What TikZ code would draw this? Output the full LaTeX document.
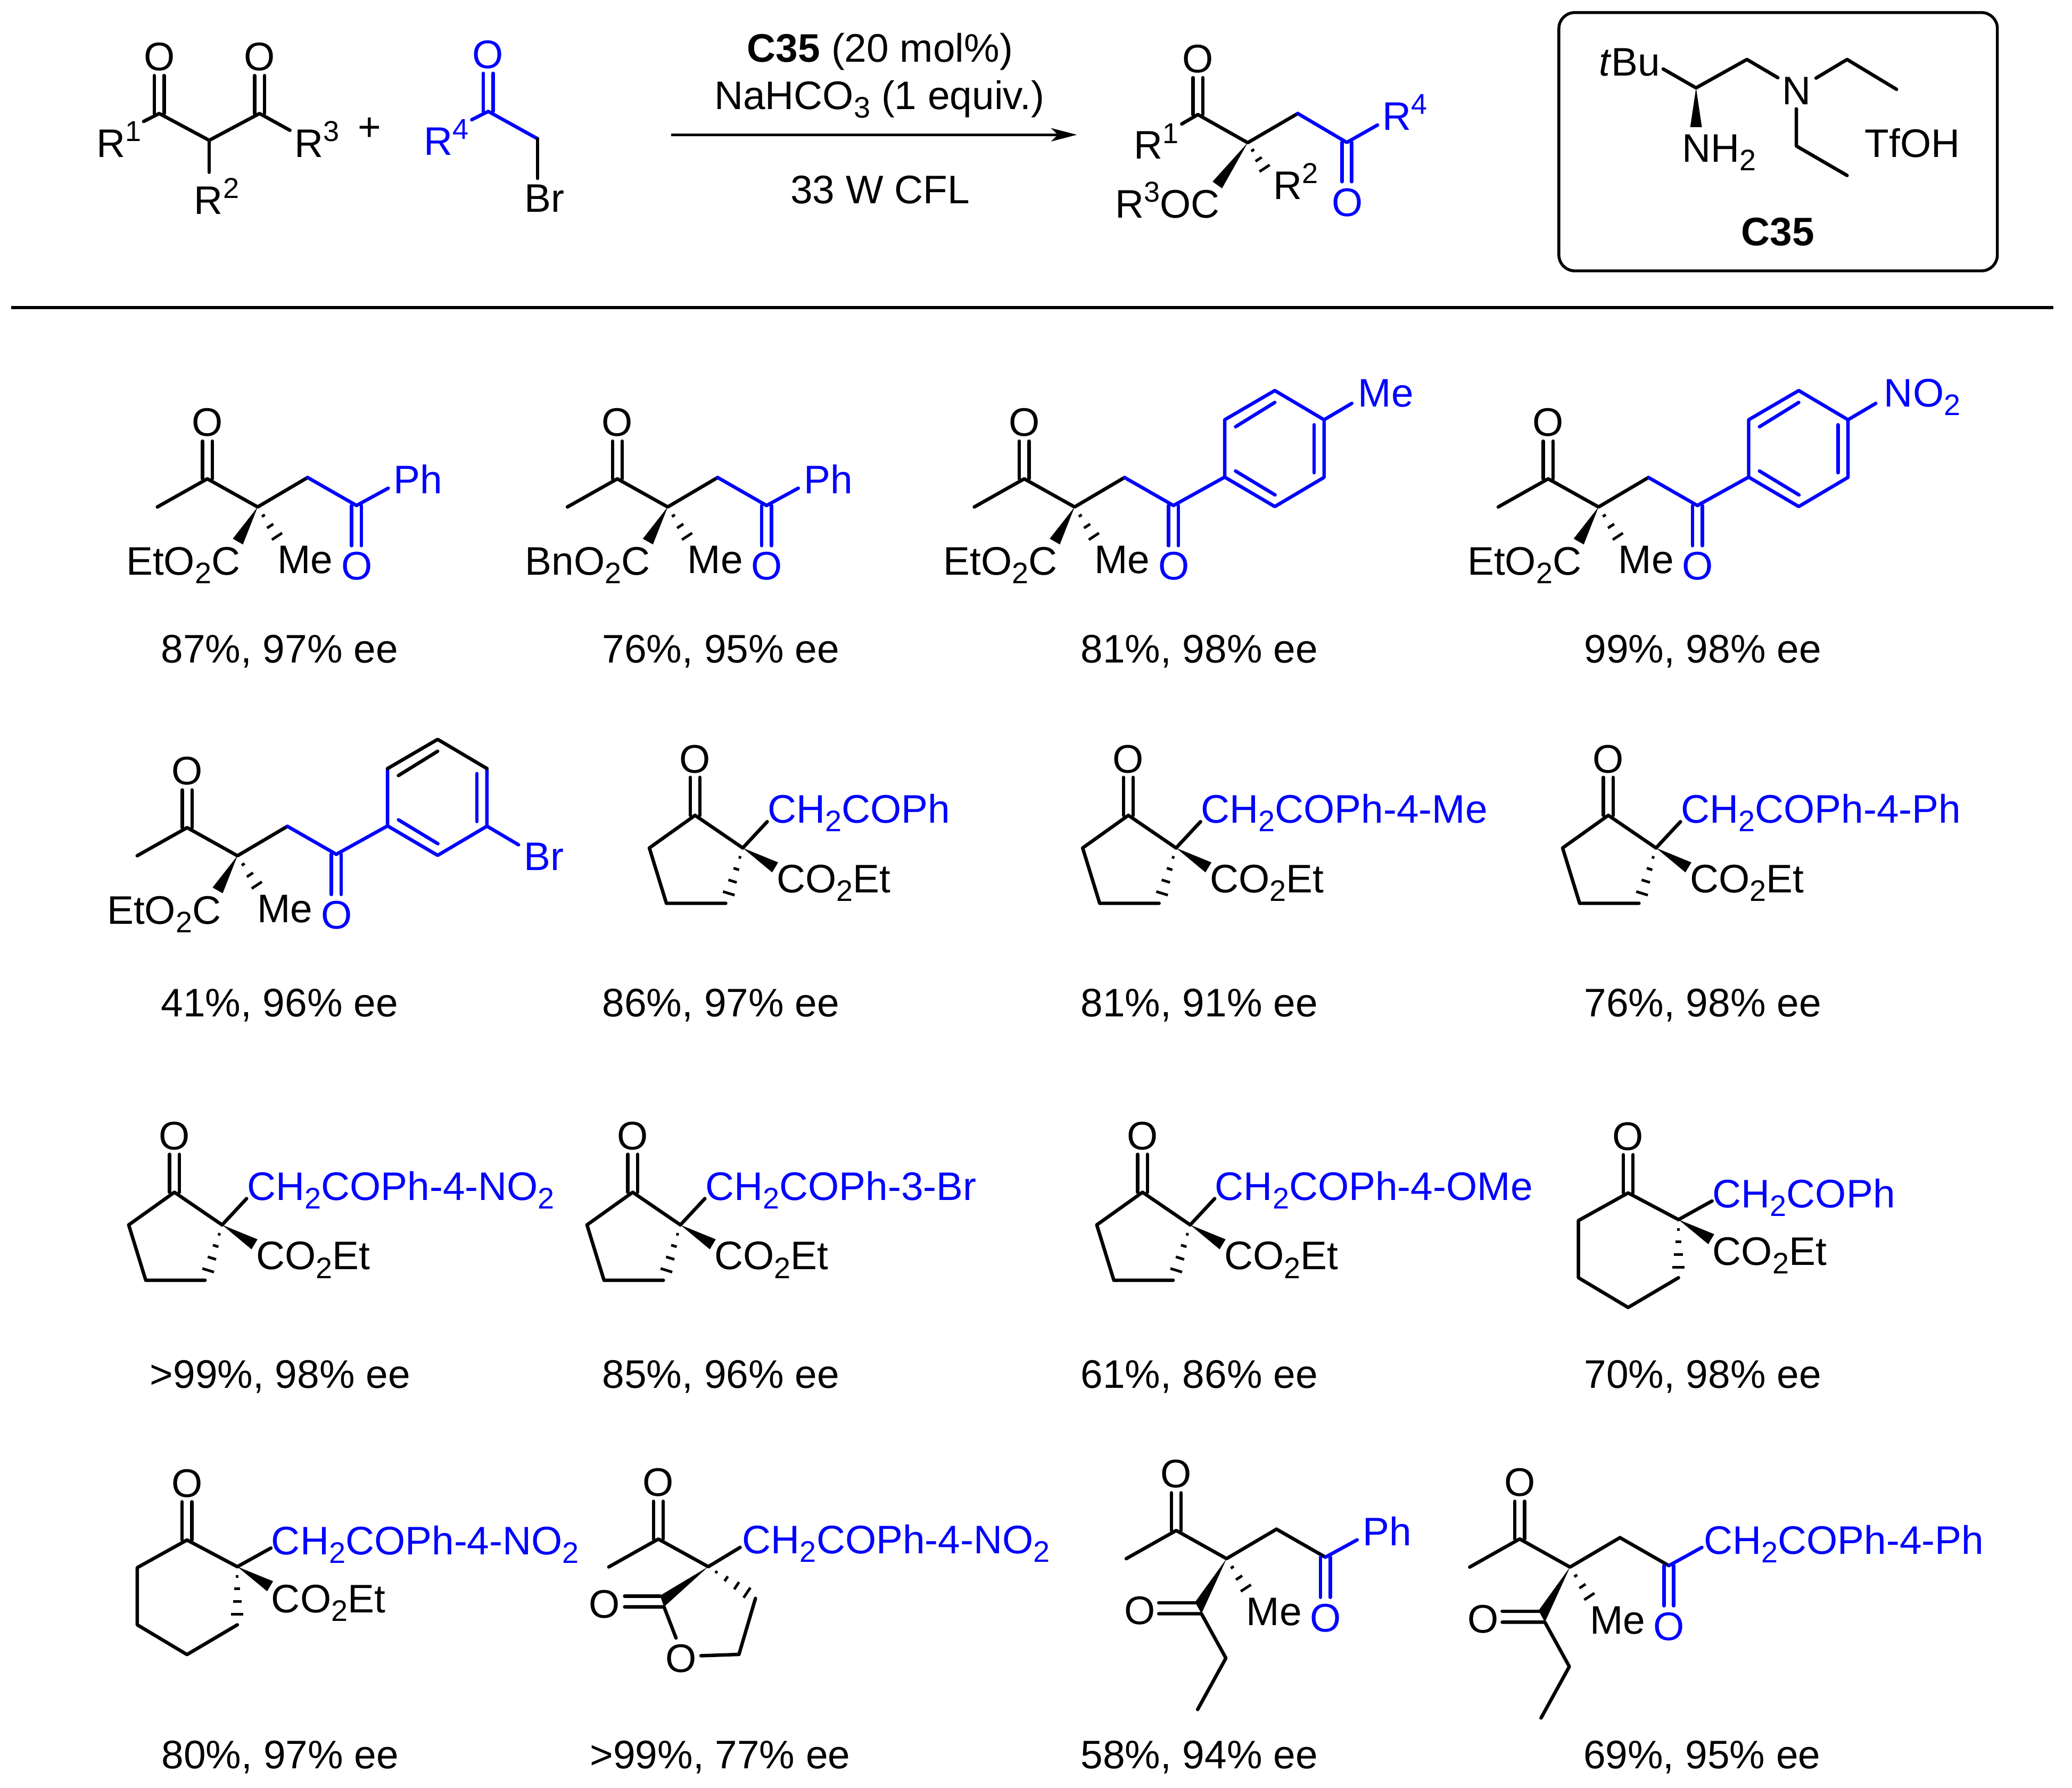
\documentclass[tikz,border=0pt]{standalone}
\usepackage{fontspec}
\setmainfont{Liberation Sans}
\usetikzlibrary{calc,arrows.meta}
\newcommand\labfont{\fontsize{8.58}{10}\selectfont}
\newcommand\sbs[1]{\raisebox{-0.65mm}{\fontsize{6.4}{7}\selectfont #1}}
\newcommand\spr[1]{\raisebox{1.2mm}{\fontsize{6.2}{7}\selectfont #1}}
\tikzset{
  lab/.style={inner sep=0pt,outer sep=0pt,font=\labfont,text=black},
  blab/.style={lab,text=blue},
  bond/.style={line width=0.26mm,line cap=round,line join=round,draw=black},
  hsh/.style={line width=0.2mm,draw=black},
  rule/.style={line width=0.22mm,draw=black}
}
% double bond between two named points
\newcommand\dbond[3][]{\draw[bond,#1] ($(#2)!0.37mm!90:(#3)$) -- ($(#3)!0.37mm!-90:(#2)$);
  \draw[bond,#1] ($(#2)!0.37mm!-90:(#3)$) -- ($(#3)!0.37mm!90:(#2)$);}
\newcommand\wedgeb[2]{\fill[black] (#1) -- ($(#2)!0.44mm!90:(#1)$) -- ($(#2)!0.44mm!-90:(#1)$) -- cycle;}
% hashed wedge, 4 stripes and 3 stripes
\newcommand\hashb[2]{\foreach \hs/\hw in {0.17/0.10,0.38/0.22,0.60/0.33,0.82/0.46}{%
  \coordinate (hc) at ($(#1)!\hs!(#2)$);
  \draw[hsh] ($(hc)!\hw mm!90:(#2)$) -- ($(hc)!\hw mm!-90:(#2)$);}}
\newcommand\hashc[2]{\foreach \hs/\hw in {0.26/0.13,0.57/0.28,0.88/0.46}{%
  \coordinate (hc) at ($(#1)!\hs!(#2)$);
  \draw[hsh] ($(hc)!\hw mm!90:(#2)$) -- ($(hc)!\hw mm!-90:(#2)$);}}
% acyclic product skeleton, frame of the first product
\newcommand\ketotop[1]{%
  \coordinate (o) at (156.9,333.9); \coordinate (c) at (156.9,362.4);
  \coordinate (me) at (119.1,383.7); \coordinate (q) at (195,383.7);
  \coordinate (ch) at (232.8,361.4); \coordinate (co) at (269.8,382.6);
  \coordinate (oe) at (269.8,413); \coordinate (hend) at (211.6,409);
  \node[lab,anchor=base] (ot) at (156.9,330) {O};
  \node[lab,anchor=base west] (met) at (210,434.1) {Me};
  \node[blab,anchor=base] (ob) at (270,439) {O};
  \dbond{o}{c}
  \draw[bond] (me) -- (c) -- (q) -- (ch);
  \draw[bond,#1] (ch) -- (co);
  \dbond[blue]{co}{oe}
  \hashc{q}{hend}}
\newcommand\estr[2]{%
  \coordinate (wend) at (180,409.9);
  \wedgeb{q}{wend}
  \node[lab,anchor=base west] (est) at (#1,435.3) {#2O\sbs{2}C};}
\newcommand\phend{%
  \coordinate (rb) at (293.8,369.5);
  \draw[bond,blue] (co) -- (rb);
  \node[blab,anchor=base west] (ph) at (298,373.7) {Ph};}
\newcommand\arylpts{%
  \coordinate (a1) at (308.6,361.1); \coordinate (a2) at (308.6,317.7);
  \coordinate (a3) at (346.5,295.6); \coordinate (a4) at (383.8,317.7);
  \coordinate (a5) at (383.8,361.3); \coordinate (a6) at (346.5,383.4);
  \coordinate (i1) at (316.8,356.5); \coordinate (i2) at (346.7,374.6);
  \coordinate (i3) at (316.8,323); \coordinate (i4) at (346.5,304.6);
  \coordinate (i5) at (376.2,321.5); \coordinate (i6) at (376.2,357.8);
  \draw[bond,blue] (co) -- (a1);}
% cyclopentanone frame
\newcommand\fivering[1]{%
  \coordinate (o) at (526,588.4); \coordinate (c) at (526,617.1);
  \coordinate (r1) at (491.4,641.8); \coordinate (r2) at (504.3,683.7);
  \coordinate (r3) at (549.2,683.7); \coordinate (q) at (562.1,641.8);
  \coordinate (wend) at (586.6,656.5); \coordinate (lb) at (580.6,621.9);
  \node[lab,anchor=base] (ot) at (526,584.9) {O};
  \dbond{o}{c}
  \draw[bond] (q) -- (c) -- (r1) -- (r2) -- (r3);
  \draw[bond] (q) -- (lb);
  \hashb{q}{r3}
  \wedgeb{q}{wend}
  \node[blab,anchor=base west] (subs) at (580.9,623) {#1};
  \node[lab,anchor=base west] (est) at (587.8,675.7) {CO\sbs{2}Et};}
% cyclohexanone frame
\newcommand\sixring[1]{%
  \coordinate (o) at (1232.1,874); \coordinate (c) at (1232.1,902.9);
  \coordinate (r1) at (1194.5,923.8); \coordinate (r2) at (1194.5,967.1);
  \coordinate (r3) at (1232.1,989.6); \coordinate (r4) at (1270.2,967.1);
  \coordinate (q) at (1270.2,923.1); \coordinate (wend) at (1295,937.9);
  \coordinate (lb) at (1295.6,909);
  \node[lab,anchor=base] (ot) at (1232.1,870.4) {O};
  \dbond{o}{c}
  \draw[bond] (q) -- (c) -- (r1) -- (r2) -- (r3) -- (r4);
  \draw[bond] (q) -- (lb);
  \hashb{q}{r4}
  \wedgeb{q}{wend}
  \node[blab,anchor=base west] (subs) at (1296,914) {#1};
  \node[lab,anchor=base west] (est) at (1296,957.7) {CO\sbs{2}Et};}
% diketone lower part
\newcommand\lowerketo{%
  \coordinate (w1) at (171.2,416.6); \coordinate (w2) at (176,425.4);
  \coordinate (d1) at (143.7,417.1); \coordinate (d1e) at (172,417.1);
  \coordinate (d2) at (143.7,425.4); \coordinate (e1) at (194.5,459);
  \coordinate (e2) at (173.1,497.9);
  \fill[black] (q) -- (w1) -- (w2) -- cycle;
  \draw[bond] (d1) -- (d1e);
  \draw[bond] (d2) -- (w2) -- (e1) -- (e2);
  \node[lab,anchor=base] (ol) at (129.4,433.6) {O};}
\begin{document}
\begin{tikzpicture}[x=0.1mm,y=-0.1mm]
\useasboundingbox (0,0) rectangle (1568,1353.3);
% ---------- reactant 1
\begin{scope}[name prefix=ra-]
  \coordinate (o1) at (120.5,57.2); \coordinate (c1) at (120.5,85.9);
  \coordinate (o2) at (196.4,57.2); \coordinate (c2) at (196.4,85.9);
  \coordinate (h) at (158.3,106.2); \coordinate (r1b) at (108.7,91.9);
  \coordinate (r2b) at (158.3,130.4); \coordinate (r3b) at (219.4,98.6);
  \node[lab,anchor=base] (ot1) at (120.5,53.3) {O};
  \node[lab,anchor=base] (ot2) at (196.4,53.3) {O};
  \node[lab,anchor=base west] (r1) at (73,119) {R\spr{1}};
  \node[lab,anchor=base west] (r2) at (147,162.2) {R\spr{2}};
  \node[lab,anchor=base west] (r3) at (223,119) {R\spr{3}};
  \dbond{o1}{c1} \dbond{o2}{c2}
  \draw[bond] (r1b) -- (c1) -- (h) -- (c2) -- (r3b);
  \draw[bond] (h) -- (r2b);
\end{scope}
\node[lab,anchor=base] (plus) at (279.6,106.7) {+};
% ---------- reactant 2
\begin{scope}[name prefix=rb-]
  \coordinate (o) at (369.5,55.5); \coordinate (c) at (369.5,84.3);
  \coordinate (rb) at (357,90.6); \coordinate (ch) at (406.8,105);
  \coordinate (brb) at (406.8,135);
  \node[blab,anchor=base] (ot) at (369.3,51.7) {O};
  \node[blab,anchor=base west] (r4) at (320.8,117.3) {R\spr{4}};
  \node[lab,anchor=base west] (br) at (397,160.6) {Br};
  \dbond[blue]{o}{c}
  \draw[bond,blue] (rb) -- (c) -- (ch);
  \draw[bond] (ch) -- (brb);
\end{scope}
% ---------- arrow and conditions
\coordinate (arrS) at (508,102); \coordinate (arrE) at (815,102);
\draw[rule,-{Stealth[length=1.95mm,width=1.0mm,inset=0.5mm]}] (arrS) -- (arrE);
\node[lab,anchor=base] (cond1) at (666,47) {\textbf{C35} (20 mol\%)};
\node[lab,anchor=base] (cond2) at (665.5,82.7) {NaHCO\sbs{3} (1 equiv.)};
\node[lab,anchor=base] (cond3) at (666,154) {33 W CFL};
% ---------- general product
\begin{scope}[name prefix=gp-]
  \coordinate (o) at (906.5,58.8); \coordinate (c) at (906.5,86.7);
  \coordinate (rb) at (894.3,93.8); \coordinate (q) at (944.2,108);
  \coordinate (ch) at (982.1,85.9); \coordinate (co) at (1019.2,107.8);
  \coordinate (oe) at (1019.2,137.5); \coordinate (r4b) at (1042.5,94.6);
  \coordinate (wend) at (921.2,140); \coordinate (hend) at (958.7,130);
  \node[lab,anchor=base] (ot) at (906.3,54.9) {O};
  \node[lab,anchor=base west] (r1) at (858,120.4) {R\spr{1}};
  \node[lab,anchor=base west] (r2) at (963.8,150.7) {R\spr{2}};
  \node[lab,anchor=base west] (r3) at (844,164.9) {R\spr{3}OC};
  \node[blab,anchor=base west] (r4) at (1046.2,98.3) {R\spr{4}};
  \node[blab,anchor=base] (ob) at (1019.5,163.8) {O};
  \dbond{o}{c}
  \draw[bond] (rb) -- (c) -- (q) -- (ch);
  \draw[bond,blue] (ch) -- (co) -- (r4b);
  \dbond[blue]{co}{oe}
  \wedgeb{q}{wend}
  \hashc{q}{hend}
\end{scope}
% ---------- catalyst box
\coordinate (boxA) at (1179.7,9.5); \coordinate (boxB) at (1511.5,205);
\draw[rule,rounded corners=1.2mm] (boxA) rectangle (boxB);
\begin{scope}[name prefix=cat-]
  \coordinate (tb) at (1258.6,52.2); \coordinate (c1) at (1283.5,66.5);
  \coordinate (c2) at (1322,45); \coordinate (nb) at (1345.4,58.8);
  \coordinate (nr) at (1374.3,59.1); \coordinate (e1) at (1397.8,45);
  \coordinate (e2) at (1435.2,67.6); \coordinate (nd) at (1359.4,82.4);
  \coordinate (f1) at (1359.4,110.5); \coordinate (f2) at (1397.8,132.8);
  \coordinate (wend) at (1283.5,96.2);
  \node[lab,anchor=base west] (tbu) at (1210,57.2) {\textit{t}Bu};
  \node[lab,anchor=base] (n) at (1359.4,79) {N};
  \node[lab,anchor=base west] (nh) at (1273,122.7) {NH\sbs{2}};
  \node[lab,anchor=base west] (tf) at (1411.2,119) {TfOH};
  \node[lab,anchor=base] (name) at (1345.4,186) {\textbf{C35}};
  \draw[bond] (tb) -- (c1) -- (c2) -- (nb);
  \draw[bond] (nr) -- (e1) -- (e2);
  \draw[bond] (nd) -- (f1) -- (f2);
  \wedgeb{c1}{wend}
\end{scope}
% ---------- separator
\coordinate (ruleA) at (8.5,232.8); \coordinate (ruleB) at (1554,232.8);
\draw[rule] (ruleA) -- (ruleB);
% ---------- row 1
\begin{scope}[name prefix=m1-]
  \ketotop{blue}\estr{95.5}{Et}\phend
\end{scope}
\begin{scope}[shift={(310.3,0)},name prefix=m2-]
  \ketotop{blue}\estr{87.2}{Bn}\phend
\end{scope}
\begin{scope}[shift={(618.2,0)},name prefix=m3-]
  \ketotop{blue}\estr{95.8}{Et}\arylpts
  \draw[bond,blue] (a1) -- (a2) -- (a3) -- (a4) -- (a5) -- (a6) -- cycle;
  \draw[bond,blue] (i1) -- (i2); \draw[bond,blue] (i3) -- (i4); \draw[bond,blue] (i5) -- (i6);
  \coordinate (pb) at (404.8,305.3);
  \draw[bond,blue] (a4) -- (pb);
  \node[blab,anchor=base west] (sb) at (409.6,308) {Me};
\end{scope}
\begin{scope}[shift={(1014.7,0)},name prefix=m4-]
  \ketotop{blue}\estr{95.8}{Et}\arylpts
  \draw[bond,blue] (a1) -- (a2) -- (a3) -- (a4) -- (a5) -- (a6) -- cycle;
  \draw[bond,blue] (i1) -- (i2); \draw[bond,blue] (i3) -- (i4); \draw[bond,blue] (i5) -- (i6);
  \coordinate (pb) at (404.8,305.3);
  \draw[bond,blue] (a4) -- (pb);
  \node[blab,anchor=base west] (sb) at (411.1,308) {NO\sbs{2}};
\end{scope}
% ---------- row 2
\begin{scope}[shift={(-15.3,264)},name prefix=m5-]
  \ketotop{blue}\estr{96.3}{Et}\arylpts
  \draw[bond,blue] (a2) -- (a1) -- (a6) -- (a5) -- (a4);
  \draw[bond] (a2) -- (a3) -- (a4);
  \draw[bond,blue] (i1) -- (i2); \draw[bond] (i3) -- (i4); \draw[bond,blue] (i5) -- (i6);
  \coordinate (pb) at (407.7,375.4);
  \draw[bond,blue] (a5) -- (pb);
  \node[blab,anchor=base west] (sb) at (411.9,394.8) {Br};
\end{scope}
\begin{scope}[name prefix=m6-]\fivering{CH\sbs{2}COPh}\end{scope}
\begin{scope}[shift={(327.9,0)},name prefix=m7-]\fivering{CH\sbs{2}COPh-4-Me}\end{scope}
\begin{scope}[shift={(691.1,0)},name prefix=m8-]\fivering{CH\sbs{2}COPh-4-Ph}\end{scope}
% ---------- row 3
\begin{scope}[shift={(-394,285.3)},name prefix=m9-]\fivering{CH\sbs{2}COPh-4-NO\sbs{2}}\end{scope}
\begin{scope}[shift={(-47.2,285.3)},name prefix=m10-]\fivering{CH\sbs{2}COPh-3-Br}\end{scope}
\begin{scope}[shift={(338.6,285.3)},name prefix=m11-]\fivering{CH\sbs{2}COPh-4-OMe}\end{scope}
\begin{scope}[name prefix=m12-]\sixring{CH\sbs{2}COPh}\end{scope}
% ---------- row 4
\begin{scope}[shift={(-1090.6,262.7)},name prefix=m13-]\sixring{CH\sbs{2}COPh-4-NO\sbs{2}}\end{scope}
\begin{scope}[name prefix=m14-]
  \coordinate (o) at (498.2,1136.3); \coordinate (c) at (498.2,1164.9);
  \coordinate (me) at (460.7,1186); \coordinate (q) at (536,1185.8);
  \coordinate (lb) at (560.1,1171.2); \coordinate (w1) at (499.5,1207.7);
  \coordinate (w2) at (502.5,1216.2); \coordinate (d1) at (472.7,1208.1);
  \coordinate (d1e) at (499.5,1208.1); \coordinate (d2) at (472.7,1216.2);
  \coordinate (ob) at (511.6,1239.8); \coordinate (oc) at (530.5,1253.2);
  \coordinate (h1) at (559.2,1252.2); \coordinate (h2) at (571.7,1209.8);
  \node[lab,anchor=base] (ot) at (498.2,1132.5) {O};
  \node[blab,anchor=base west] (subs) at (561.8,1175.9) {CH\sbs{2}COPh-4-NO\sbs{2}};
  \node[lab,anchor=base] (ol) at (457.5,1224.6) {O};
  \node[lab,anchor=base] (or) at (515.3,1265.6) {O};
  \dbond{o}{c}
  \draw[bond] (me) -- (c) -- (q) -- (lb);
  \fill[black] (q) -- (w1) -- (w2) -- cycle;
  \draw[bond] (d1) -- (d1e);
  \draw[bond] (d2) -- (w2) -- (ob);
  \draw[bond] (oc) -- (h1) -- (h2);
  \hashb{q}{h2}
\end{scope}
\begin{scope}[shift={(733.2,796)},name prefix=m15-]
  \ketotop{black}\lowerketo\phend
\end{scope}
\begin{scope}[shift={(993.1,802.4)},name prefix=m16-]
  \ketotop{black}\lowerketo
  \coordinate (rb) at (294.8,368.8);
  \draw[bond,blue] (co) -- (rb);
  \node[blab,anchor=base west] (ph) at (296.2,373.9) {CH\sbs{2}COPh-4-Ph};
\end{scope}
% ---------- yields
\node[lab,anchor=base] (y1) at (211.5,501.6) {87\%, 97\% ee};
\node[lab,anchor=base] (y2) at (545.5,501.6) {76\%, 95\% ee};
\node[lab,anchor=base] (y3) at (907.5,501.6) {81\%, 98\% ee};
\node[lab,anchor=base] (y4) at (1288.5,501.6) {99\%, 98\% ee};
\node[lab,anchor=base] (y5) at (211.5,769.5) {41\%, 96\% ee};
\node[lab,anchor=base] (y6) at (545.5,769.5) {86\%, 97\% ee};
\node[lab,anchor=base] (y7) at (907.5,769.5) {81\%, 91\% ee};
\node[lab,anchor=base] (y8) at (1288.5,769.5) {76\%, 98\% ee};
\node[lab,anchor=base] (y9) at (212,1050.5) {>99\%, 98\% ee};
\node[lab,anchor=base] (y10) at (545.5,1050.5) {85\%, 96\% ee};
\node[lab,anchor=base] (y11) at (907.5,1050.5) {61\%, 86\% ee};
\node[lab,anchor=base] (y12) at (1288.5,1050.5) {70\%, 98\% ee};
\node[lab,anchor=base] (y13) at (212,1338.5) {80\%, 97\% ee};
\node[lab,anchor=base] (y14) at (545,1338.5) {>99\%, 77\% ee};
\node[lab,anchor=base] (y15) at (907.5,1338.5) {58\%, 94\% ee};
\node[lab,anchor=base] (y16) at (1288,1338.5) {69\%, 95\% ee};
\end{tikzpicture}
\end{document}
